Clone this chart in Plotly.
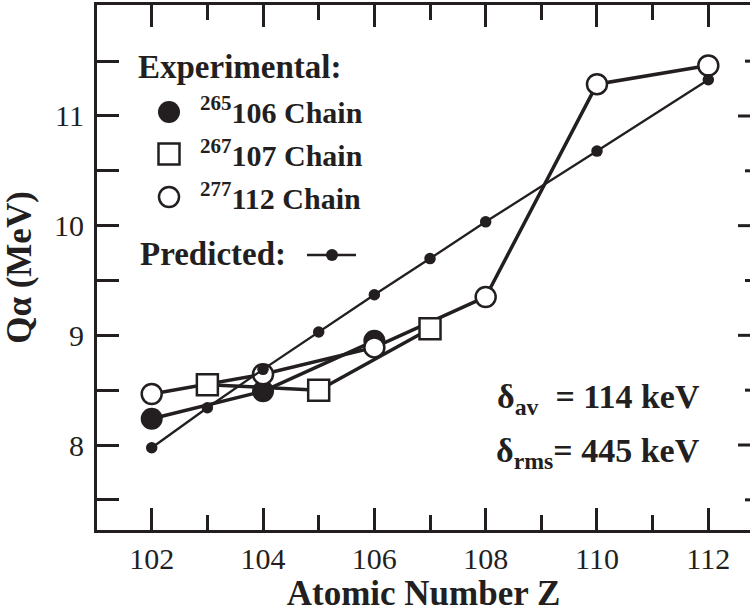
import plotly.graph_objects as go

# ---- data ----
z_265 = [102, 104, 106]
q_265 = [8.24, 8.49, 8.95]
z_267 = [103, 105, 107]
q_267 = [8.55, 8.50, 9.06]
z_277 = [102, 104, 106, 108, 110, 112]
q_277 = [8.465, 8.645, 8.89, 9.35, 11.29, 11.46]
z_pred = [102, 103, 104, 105, 106, 107, 108, 110, 112]
q_pred = [7.975, 8.34, 8.69, 9.03, 9.37, 9.70, 10.035, 10.68, 11.33]

x_ticks = [102, 104, 106, 108, 110, 112]
x_minor = [103, 105, 107, 109, 111]
y_ticks = [8, 9, 10, 11]
y_minor = [7.5, 8.5, 9.5, 10.5, 11.5]

INK = "#231f20"
FONT = "Liberation Serif"

W, H = 750, 613
L, R, T, B = 97, 0, 5, 83
PW, PH = W - L - R, H - T - B


def px(x):
    return (x - L) / PW


def py(y):
    return (H - B - y) / PH


fig = go.Figure()

fig.add_trace(go.Scatter(x=z_265, y=q_265, mode="lines+markers",
                         line=dict(color=INK, width=3.5),
                         marker=dict(symbol="circle", size=22, color=INK, line=dict(width=0))))
fig.add_trace(go.Scatter(x=z_277, y=q_277, mode="lines+markers",
                         line=dict(color=INK, width=3.5),
                         marker=dict(symbol="circle", size=20, color="white", line=dict(color=INK, width=2.5))))
fig.add_trace(go.Scatter(x=z_267, y=q_267, mode="lines+markers",
                         line=dict(color=INK, width=3.5),
                         marker=dict(symbol="square", size=21, color="white", line=dict(color=INK, width=2.5))))
fig.add_trace(go.Scatter(x=z_pred, y=q_pred, mode="lines+markers",
                         line=dict(color=INK, width=2.3),
                         marker=dict(symbol="circle", size=11.5, color=INK, line=dict(width=0))))

# legend glyphs on an overlay pixel-space axis
fig.add_trace(go.Scatter(x=[169], y=[112], xaxis="x2", yaxis="y2", mode="markers",
                         marker=dict(symbol="circle", size=22, color=INK, line=dict(width=0))))
fig.add_trace(go.Scatter(x=[169], y=[154], xaxis="x2", yaxis="y2", mode="markers",
                         marker=dict(symbol="square", size=21, color="white", line=dict(color=INK, width=2.5))))
fig.add_trace(go.Scatter(x=[169], y=[197], xaxis="x2", yaxis="y2", mode="markers",
                         marker=dict(symbol="circle", size=20, color="white", line=dict(color=INK, width=2.5))))
fig.add_trace(go.Scatter(x=[307, 356], y=[255, 255], xaxis="x2", yaxis="y2", mode="lines",
                         line=dict(color=INK, width=2.3)))
fig.add_trace(go.Scatter(x=[332], y=[255], xaxis="x2", yaxis="y2", mode="markers",
                         marker=dict(symbol="circle", size=12, color=INK, line=dict(width=0))))

ann = []


def add_text(text, x, y, size, xanchor="left", yanchor="middle"):
    ann.append(dict(text=text, x=px(x), y=py(y), xref="paper", yref="paper",
                    xanchor=xanchor, yanchor=yanchor, showarrow=False,
                    font=dict(family=FONT, size=size, color=INK)))


add_text("<b>Experimental:</b>", 136, 67, 33)
add_text("<b><sup>265</sup>106 Chain</b>", 198, 110, 30)
add_text("<b><sup>267</sup>107 Chain</b>", 198, 153, 30)
add_text("<b><sup>277</sup>112 Chain</b>", 198, 196, 30)
add_text("<b>Predicted:</b>", 138, 254, 33)
add_text("<b>δ<sub>av</sub>\u00a0\u00a0= 114 keV</b>", 702, 399, 34, xanchor="right")
add_text("<b>δ<sub>rms</sub>= 445 keV</b>", 702, 453, 34, xanchor="right")

# right-side ticks (frame edge lies just beyond the window)
shapes = []
for v in y_ticks:
    shapes.append(dict(type="line", xref="paper", yref="y", x0=px(738), x1=1.02, y0=v, y1=v,
                       line=dict(color=INK, width=3)))
for v in y_minor:
    shapes.append(dict(type="line", xref="paper", yref="y", x0=px(745), x1=1.02, y0=v, y1=v,
                       line=dict(color=INK, width=3)))

fig.update_layout(
    width=W, height=H,
    margin=dict(l=L, r=R, t=T, b=B, pad=0),
    paper_bgcolor="white", plot_bgcolor="white",
    showlegend=False,
    annotations=ann,
    shapes=shapes,
    font=dict(family=FONT, color=INK),
    xaxis=dict(range=[101.017, 112.749], tickvals=x_ticks, ticks="inside", ticklen=22, tickwidth=3,
               tickcolor=INK, showline=True, linewidth=3, linecolor=INK, mirror="ticks",
               showgrid=False, zeroline=False,
               minor=dict(tickvals=x_minor, ticks="inside", ticklen=15, tickwidth=3,
                          tickcolor=INK, showgrid=False),
               tickfont=dict(family=FONT, size=30, color=INK), ticklabelstandoff=0,
               title=dict(text="<b>Atomic Number Z</b>", font=dict(family=FONT, size=35, color=INK),
                          standoff=6)),
    yaxis=dict(range=[7.225, 12.012], tickvals=y_ticks, ticks="inside", ticklen=22, tickwidth=3,
               tickcolor=INK, showline=True, linewidth=3, linecolor=INK, mirror=False,
               showgrid=False, zeroline=False,
               minor=dict(tickvals=y_minor, ticks="inside", ticklen=22, tickwidth=3,
                          tickcolor=INK, showgrid=False),
               tickfont=dict(family=FONT, size=30, color=INK), ticklabelstandoff=4,
               title=dict(text="<b>Qα (MeV)</b>", font=dict(family=FONT, size=35, color=INK),
                          standoff=12)),
    xaxis2=dict(range=[L, W - R], overlaying="x", visible=False, fixedrange=True),
    yaxis2=dict(range=[H - B, T], overlaying="y", visible=False, fixedrange=True),
)

fig.write_html("out.html")
